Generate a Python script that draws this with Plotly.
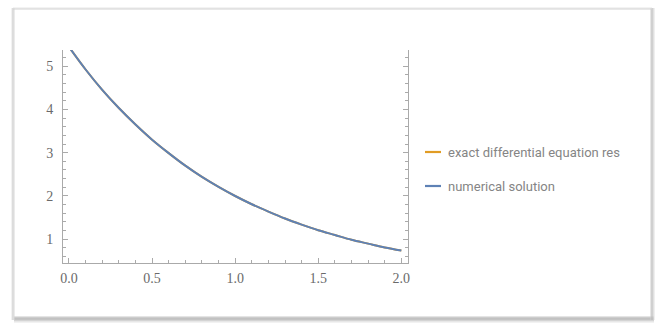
import plotly.graph_objects as go

# data
t_values = [0.0, 0.1, 0.2, 0.3, 0.4, 0.5, 0.6, 0.7, 0.8, 0.9, 1.0,
            1.1, 1.2, 1.3, 1.4, 1.5, 1.6, 1.7, 1.8, 1.9, 2.0]
exact_values = [5.44, 4.92, 4.45, 4.03, 3.65, 3.30, 2.99, 2.70, 2.44, 2.21, 2.00,
                1.81, 1.64, 1.48, 1.34, 1.21, 1.10, 0.99, 0.90, 0.81, 0.74]
numerical_values = [5.44, 4.92, 4.45, 4.03, 3.65, 3.30, 2.99, 2.70, 2.44, 2.21, 2.00,
                    1.81, 1.64, 1.48, 1.34, 1.21, 1.10, 0.99, 0.90, 0.81, 0.74]
series_names = ["exact differential equation res", "numerical solution"]
series_colors = ["#E19C24", "#5E81B5"]

W, H = 658, 329
L, R, T, B = 63, 408, 50, 263

def px(x):
    return (x - L) / (R - L)

def py(y):
    return (B - y) / (B - T)

fig = go.Figure()
fig.add_trace(go.Scatter(x=t_values, y=exact_values, mode="lines", name=series_names[0],
                         line=dict(color=series_colors[0], width=2, shape="spline"), showlegend=False))
fig.add_trace(go.Scatter(x=t_values, y=numerical_values, mode="lines", name=series_names[1],
                         line=dict(color=series_colors[1], width=2, shape="spline"), showlegend=False))

tick_font = dict(family="Liberation Serif, DejaVu Serif, serif", size=14, color="#6a6a6a")
axis_col = "#aaaaaa"

fig.update_layout(
    width=W, height=H,
    margin=dict(l=L, r=W - R, t=T, b=H - B, pad=0),
    paper_bgcolor="white", plot_bgcolor="white",
    xaxis=dict(range=[-0.036, 2.04], showgrid=False, zeroline=False,
               showline=True, linecolor=axis_col, linewidth=1,
               ticks="inside", ticklen=5, tickcolor=axis_col, tickwidth=1,
               tick0=0, dtick=0.5, tickformat=".1f", tickfont=tick_font,
               minor=dict(ticks="inside", ticklen=3, dtick=0.1, tick0=0, tickcolor=axis_col, showgrid=False),
               mirror=False, ticklabelstandoff=2),
    yaxis=dict(range=[0.453, 5.37], showgrid=False, zeroline=False,
               showline=True, linecolor=axis_col, linewidth=1,
               ticks="inside", ticklen=5, tickcolor=axis_col, tickwidth=1,
               tick0=0, dtick=1, tickfont=tick_font,
               minor=dict(ticks="inside", ticklen=3, dtick=0.2, tick0=0, tickcolor=axis_col, showgrid=False),
               mirror="ticks", ticklabelstandoff=6),
)

shapes = []
# outer frame with shadow
shadow_cols = ["#c8c8c8", "#b4b4b4", "#a8a8a8", "#b4b4b4", "#cfcfcf", "#e6e6e6"]
for i, c in enumerate(shadow_cols):
    shapes.append(dict(type="line", xref="paper", yref="paper",
                       x0=px(14), x1=px(654), y0=py(317 + i), y1=py(317 + i),
                       line=dict(color=c, width=1)))
right_cols = ["#cfcfcf", "#b8b8b8", "#c4c4c4", "#e0e0e0"]
for i, c in enumerate(right_cols):
    shapes.append(dict(type="line", xref="paper", yref="paper",
                       x0=px(651 + i), x1=px(651 + i), y0=py(8), y1=py(320),
                       line=dict(color=c, width=1)))
left_cols = ["#e4e4e4", "#c6c6c6", "#d8d8d8"]
for i, c in enumerate(left_cols):
    shapes.append(dict(type="line", xref="paper", yref="paper",
                       x0=px(12 + i), x1=px(12 + i), y0=py(8), y1=py(320),
                       line=dict(color=c, width=1)))
top_cols = ["#e6e6e6", "#d2d2d2"]
for i, c in enumerate(top_cols):
    shapes.append(dict(type="line", xref="paper", yref="paper",
                       x0=px(13), x1=px(652), y0=py(8 + i), y1=py(8 + i),
                       line=dict(color=c, width=1)))

# legend
legend_y = [152, 186]
for name, col, yy in zip(series_names, series_colors, legend_y):
    shapes.append(dict(type="line", xref="paper", yref="paper",
                       x0=px(425), x1=px(441), y0=py(yy), y1=py(yy),
                       line=dict(color=col, width=2.2)))
    fig.add_annotation(xref="paper", yref="paper", x=px(446), y=py(yy),
                       xanchor="left", yanchor="middle", showarrow=False, text=name,
                       font=dict(family="Roboto, Open Sans, sans-serif", size=13, color="#858585"))

fig.update_layout(shapes=shapes)
fig.write_html("out.html")
